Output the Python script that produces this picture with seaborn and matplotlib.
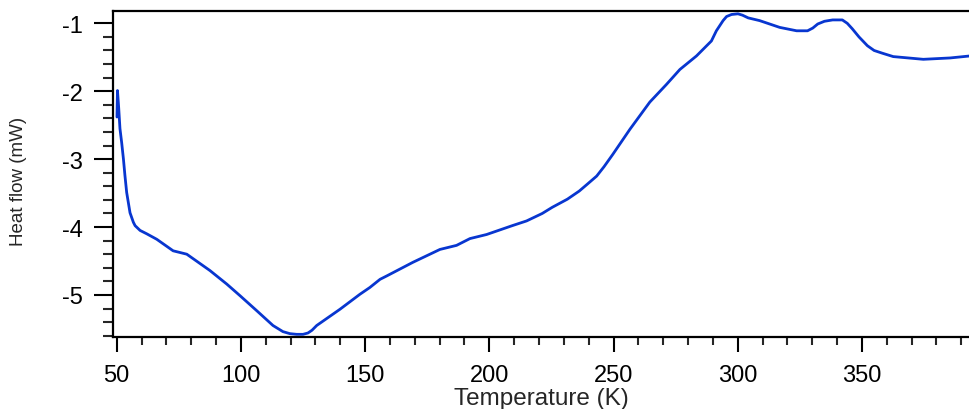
import matplotlib
matplotlib.use("Agg")
import matplotlib.pyplot as plt
import seaborn as sns
import pandas as pd
from matplotlib.ticker import MultipleLocator

temperature = [50.1, 50.3, 50.8, 51.3, 52.0, 52.7, 53.3, 54.0, 55.35, 56.7, 57.4, 59.4, 62.1,
               66.1, 72.7, 78.2, 87.5, 94.3, 99.6, 106.3, 112.9, 116.9, 119.7, 122.4, 125.0,
               127.0, 128.6, 130.5, 139.9, 147.9, 151.9, 156.0, 158.7, 169.2, 180.1, 186.8,
               192.2, 198.9, 209.2, 215.0, 221.3, 225.3, 231.4, 236.2, 239.4, 243.2, 246.2,
               249.7, 256.6, 264.6, 271.3, 276.7, 283.4, 289.4, 291.4, 294.1, 295.5, 297.5,
               300.1, 301.9, 304.2, 308.8, 316.9, 323.7, 328.1, 330.2, 332.2, 334.9, 338.2,
               342.1, 344.1, 346.1, 348.8, 352.2, 354.9, 358.2, 362.6, 374.7, 385.5, 393.6]
heat_flow = [-2.38, -1.99, -2.25, -2.55, -2.76, -3.00, -3.24, -3.49, -3.79, -3.93, -3.98, -4.05, -4.10,
             -4.18, -4.35, -4.40, -4.64, -4.84, -5.01, -5.23, -5.45, -5.54, -5.57, -5.58, -5.58,
             -5.56, -5.52, -5.45, -5.21, -4.99, -4.89, -4.77, -4.72, -4.52, -4.33, -4.27,
             -4.17, -4.11, -3.98, -3.91, -3.80, -3.71, -3.59, -3.47, -3.37, -3.25, -3.11,
             -2.93, -2.56, -2.16, -1.90, -1.68, -1.48, -1.26, -1.11, -0.96, -0.90, -0.87,
             -0.86, -0.88, -0.92, -0.96, -1.06, -1.11, -1.11, -1.07, -1.01, -0.97, -0.95,
             -0.95, -1.00, -1.08, -1.20, -1.33, -1.40, -1.44, -1.49, -1.53, -1.51, -1.48]

x_ticks = [50, 100, 150, 200, 250, 300, 350]
y_ticks = [-5, -4, -3, -2, -1]

sns.set_style("ticks")
plt.rcParams['font.family'] = ['Liberation Sans', 'DejaVu Sans']

df = pd.DataFrame({"Temperature (K)": temperature, "Heat flow (mW)": heat_flow})

fig = plt.figure(figsize=(9.7, 4.1), dpi=100)
ax = fig.add_axes([0.1165, 0.175, 0.8835, 0.795])
sns.lineplot(data=df, x="Temperature (K)", y="Heat flow (mW)", sort=False, estimator=None,
             color="#0836D0", linewidth=2.0, ax=ax)

ax.set_xlim(48.5, 393.5)
ax.set_ylim(-5.623, -0.823)
ax.set_xticks(x_ticks)
ax.set_xticklabels([str(t) for t in x_ticks])
ax.set_yticks(y_ticks)
ax.set_yticklabels([str(t) for t in y_ticks])
ax.xaxis.set_minor_locator(MultipleLocator(10))
ax.yaxis.set_minor_locator(MultipleLocator(0.2))

ax.tick_params(axis='x', which='major', direction='out', length=11, width=1.5, pad=8, labelsize=17, colors='black')
ax.tick_params(axis='x', which='minor', direction='out', length=5.5, width=1.5)
ax.tick_params(axis='y', which='major', direction='out', length=14, width=1.5, pad=8, labelsize=17, colors='black')
ax.tick_params(axis='y', which='minor', direction='out', length=7.5, width=1.5)

for s in ['left', 'bottom', 'top']:
    ax.spines[s].set_linewidth(1.6)
    ax.spines[s].set_color('black')
ax.spines['right'].set_visible(False)

ax.set_xlabel("Temperature (K)", fontsize=17.5)
ax.xaxis.set_label_coords(0.4995, -0.187)
ax.xaxis.label.set_va('center')
ax.set_ylabel("Heat flow (mW)", fontsize=13.5)
ax.yaxis.set_label_coords(-0.1097, 0.482)
ax.yaxis.label.set_va('center')

fig.savefig("out.png", dpi=100)
